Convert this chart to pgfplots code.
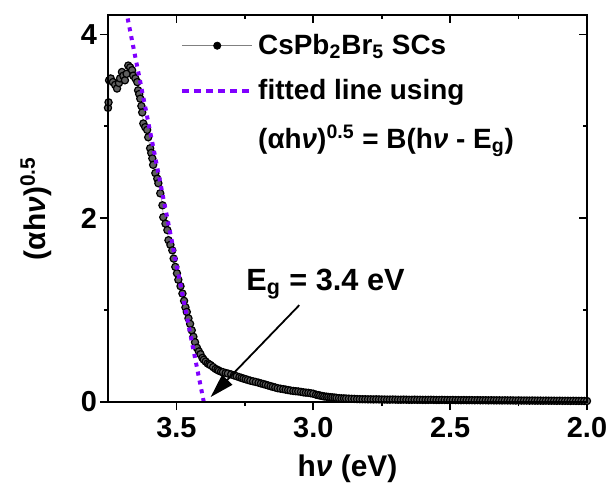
\documentclass[border=0pt]{standalone}
\usepackage{fontspec}
\setmainfont{Liberation Sans}
\usepackage{pgfplots}
\pgfplotsset{compat=1.18}
\usetikzlibrary{arrows.meta}
\definecolor{fitviolet}{RGB}{128,0,255}
\definecolor{markfill}{RGB}{95,95,95}

\pgfplotstableread{
x y
3.750 3.20
3.748 3.26
3.746 3.50
3.740 3.52
3.732 3.48
3.724 3.45
3.717 3.41
3.710 3.47
3.706 3.52
3.699 3.59
3.694 3.55
3.688 3.50
3.682 3.57
3.676 3.66
3.669 3.64
3.662 3.61
3.658 3.55
3.650 3.52
3.643 3.48
3.640 3.39
3.636 3.35
3.632 3.30
3.628 3.22
3.625 3.15
3.621 3.03
3.614 2.99
3.607 2.96
3.603 2.88
3.596 2.76
3.592 2.71
3.588 2.65
3.585 2.58
3.577 2.49
3.570 2.43
3.566 2.38
3.559 2.27
3.551 2.14
3.548 2.01
3.540 1.94
3.533 1.87
3.529 1.76
3.522 1.71
3.515 1.65
3.510 1.56
3.504 1.47
3.498 1.40
3.493 1.33
3.485 1.26
3.478 1.18
3.472 1.10
3.467 1.03
3.462 0.98
3.456 0.91
3.450 0.85
3.444 0.78
3.438 0.71
3.432 0.65
3.425 0.59
3.418 0.55
3.412 0.52
3.405 0.48
3.400 0.46
3.393 0.44
3.386 0.42
3.380 0.41
3.375 0.40
3.366 0.38
3.357 0.36
3.350 0.35
3.345 0.34
3.337 0.33
3.330 0.325
3.320 0.315
3.312 0.31
3.300 0.30
3.290 0.29
3.280 0.28
3.270 0.27
3.262 0.262
3.255 0.255
3.247 0.248
3.239 0.24
3.230 0.232
3.220 0.225
3.210 0.218
3.200 0.21
3.191 0.202
3.182 0.195
3.174 0.188
3.165 0.18
3.156 0.172
3.148 0.165
3.139 0.158
3.130 0.15
3.120 0.145
3.110 0.14
3.101 0.135
3.092 0.13
3.083 0.125
3.073 0.12
3.064 0.117
3.055 0.115
3.045 0.11
3.036 0.105
3.027 0.102
3.018 0.10
3.009 0.095
3.000 0.09
2.990 0.08
2.982 0.075
2.975 0.07
2.967 0.065
2.960 0.06
2.952 0.058
2.945 0.055
2.937 0.052
2.930 0.05
2.922 0.048
2.915 0.045
2.906 0.042
2.897 0.04
2.888 0.039
2.880 0.038
2.870 0.036
2.860 0.035
2.850 0.034
2.840 0.032
2.830 0.031
2.820 0.030
2.810 0.030
2.800 0.029
2.790 0.029
2.780 0.028
2.770 0.029
2.760 0.028
2.750 0.027
2.740 0.027
2.730 0.026
2.720 0.026
2.710 0.027
2.700 0.026
2.690 0.025
2.680 0.025
2.670 0.026
2.660 0.025
2.650 0.024
2.640 0.024
2.630 0.025
2.620 0.024
2.610 0.024
2.600 0.023
2.590 0.023
2.580 0.023
2.570 0.024
2.560 0.023
2.550 0.022
2.540 0.022
2.530 0.023
2.520 0.022
2.510 0.022
2.500 0.021
2.490 0.022
2.480 0.021
2.470 0.021
2.460 0.020
2.450 0.021
2.440 0.020
2.430 0.020
2.420 0.020
2.410 0.019
2.400 0.020
2.390 0.019
2.380 0.019
2.370 0.019
2.360 0.018
2.350 0.019
2.340 0.018
2.330 0.018
2.320 0.018
2.310 0.017
2.300 0.018
2.290 0.017
2.280 0.017
2.270 0.017
2.260 0.016
2.250 0.017
2.240 0.016
2.230 0.016
2.220 0.016
2.210 0.015
2.200 0.016
2.190 0.015
2.180 0.015
2.170 0.015
2.160 0.014
2.150 0.015
2.140 0.014
2.130 0.014
2.120 0.014
2.110 0.013
2.100 0.014
2.090 0.013
2.080 0.013
2.070 0.013
2.060 0.012
2.050 0.013
2.040 0.012
2.030 0.012
2.020 0.012
2.010 0.011
2.000 0.011
}\datatable

\pgfplotstableread{
x y
3.40 0.00
3.70 4.50
}\fittable

\pgfplotsset{
  commonaxis/.style={
    scale only axis, width=239.5bp, height=193.5bp,
    x dir=reverse, xmin=2.0, xmax=3.75, ymin=0, ymax=4.21,
    xtick={2.0,2.5,3.0,3.5}, minor x tick num=1,
    ytick={0,2,4}, minor y tick num=1,
    major tick length=4bp, minor tick length=2bp,
    axis line style={line width=0.8bp},
    every tick/.style={black, line width=0.8bp},
  }
}

\begin{document}
\begin{tikzpicture}
\useasboundingbox (-54bp,-40.5bp) rectangle (251.5bp,201bp);
\begin{axis}[
  commonaxis,
  tick align=outside, xtick pos=left, ytick pos=left,
  clip mode=individual,
  /pgf/number format/assume math mode=true,
  tick label style={font=\fontsize{14.5}{17}\selectfont\bfseries},
  x tick label style={/pgf/number format/.cd, fixed, fixed zerofill, precision=1, /tikz/.cd},
  y tick label style={xshift=2bp},
  xlabel={h\textit{ν} (eV)},
  ylabel={(αh\textit{ν})\textsuperscript{0.5}},
  label style={font=\fontsize{15}{18}\selectfont\bfseries},
  xlabel style={at={(rel axis cs:0.5,0)}, anchor=base, yshift=-37bp, inner sep=0pt},
  ylabel style={at={(rel axis cs:0,0.5)}, anchor=south, yshift=28bp, inner sep=0pt},
  legend style={at={(0.15,0.962)}, anchor=north west, draw=none, fill=none,
    font=\fontsize{14}{16}\selectfont\bfseries, row sep=7bp, inner sep=0pt},
  legend cell align=left,
]
\addplot[gray!60, line width=0.4bp, mark=*, mark size=1.8bp,
  mark options={fill=markfill, draw=black, line width=0.6bp},
  legend image code/.code={\draw[gray, line width=0.5bp] (0bp,0bp) -- (35bp,0bp);
    \fill[black] (17.5bp,0bp) circle (1.8bp);}]
  table[x=x, y=y] {\datatable};
\addlegendentry{CsPb\textsubscript{2}Br\textsubscript{5} SCs}
\addplot[fitviolet, line width=2bp, dash pattern=on 2bp off 2.5bp,
  legend image code/.code={\draw[fitviolet, line width=2bp, dash pattern=on 3.5bp off 2.5bp] (0bp,0bp) -- (35bp,0bp);}]
  table[x=x, y=y] {\fittable};
\addlegendentry{fitted line using}
\addlegendimage{empty legend}
\addlegendentry{(αh\textit{ν})\textsuperscript{0.5} = B(h\textit{ν} - E\textsubscript{g})}
\draw[line width=0.9bp, -{Triangle[length=12bp,width=7bp]}] (axis cs:3.051,1.054) -- (axis cs:3.375,0.054);
\node[anchor=base west, inner sep=0pt, font=\fontsize{15.4}{18}\selectfont\bfseries] at (axis cs:3.246,1.217) {E\textsubscript{g} = 3.4 eV};
\end{axis}
\begin{axis}[
  commonaxis,
  tick align=inside, xtick pos=right, ytick pos=right,
  xticklabels={}, yticklabels={},
]
\end{axis}
\end{tikzpicture}
\end{document}
